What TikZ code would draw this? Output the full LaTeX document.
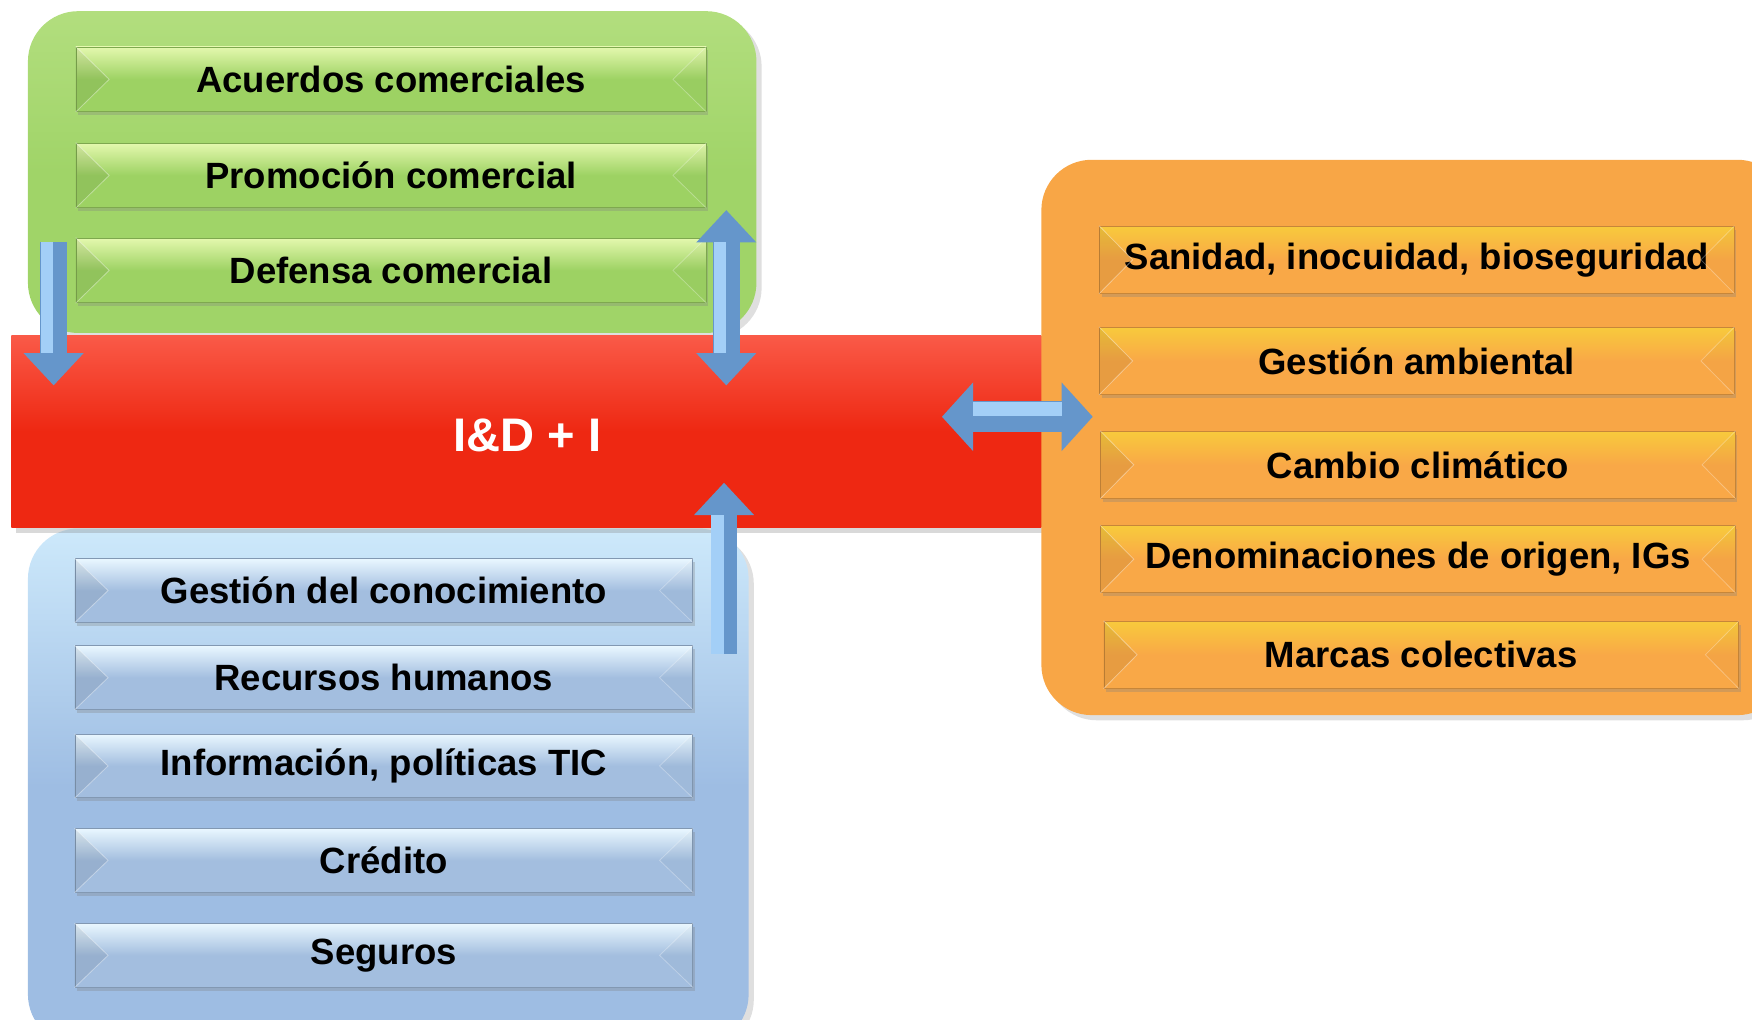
\documentclass[tikz,border=0pt]{standalone}
\usepackage{fontspec}
\setmainfont{Liberation Sans}
\usetikzlibrary{arrows.meta,positioning,shadows,calc}

\definecolor{panelGreen}{HTML}{A0D468}
\definecolor{panelGreenTop}{HTML}{B2DE7E}
\definecolor{barGreen}{HTML}{9DD263}
\definecolor{barGreenTop}{HTML}{E4F8AE}
\definecolor{idiRed}{HTML}{EE2812}
\definecolor{idiRedTop}{HTML}{FA5A48}
\definecolor{panelBlue}{HTML}{9EBDE3}
\definecolor{panelBlueTop}{HTML}{CDE9FB}
\definecolor{barBlue}{HTML}{A3BEDF}
\definecolor{barBlueTop}{HTML}{E9F7FF}
\definecolor{panelOrange}{HTML}{F8A646}
\definecolor{barOrange}{HTML}{F9A847}
\definecolor{barOrangeTop}{HTML}{F8CA3C}
\definecolor{arrowBlue}{HTML}{6596CB}
\definecolor{arrowLight}{HTML}{A3CFF7}

\tikzset{
  txt/.style={font=\fontsize{18.6}{22}\selectfont\bfseries},
  panel/.style={rounded corners=0.9cm, drop shadow={opacity=0.25}},
  bevel/.style={rectangle, txt, inner sep=0pt, draw=#1!80!black, line width=0.4pt,
    drop shadow={opacity=0.3, shadow xshift=0.04cm, shadow yshift=-0.06cm}},
  greenbar/.style={bevel=barGreen, top color=barGreenTop, bottom color=barGreen,
    middle color=barGreen, minimum width=11.28cm, minimum height=1.16cm},
  bluebar/.style={bevel=barBlue, top color=barBlueTop, bottom color=barBlue,
    middle color=barBlue, minimum width=11.06cm, minimum height=1.14cm},
  orangebar/.style={bevel=barOrange, top color=barOrangeTop, bottom color=barOrange,
    middle color=barOrange, minimum width=11.36cm, minimum height=1.2cm},
  bigarrow/.style={line width=0.48cm, draw=arrowBlue},
  blockhead/.tip={Triangle[length=0.58cm, width=1.04cm]},
  widehead/.tip={Triangle[length=0.56cm, width=1.2cm]},
  shine/.style={line width=0.22cm, draw=arrowLight}
}

\begin{document}
\begin{tikzpicture}[x=0.02cm,y=-0.02cm]

  \useasboundingbox (0,0) rectangle (1568,912);
  \clip (0,0) rectangle (1568,912);

  % panels
  \shade[panel, top color=panelGreenTop, bottom color=panelGreen, middle color=panelGreen]
    (25,10) rectangle (677,298);
  \shade[panel, top color=panelBlueTop, bottom color=panelBlue, middle color=panelBlue]
    (25,473) rectangle (670,935);

  % green bars
  \node[greenbar] (acuerdos)  at (350,71)  {Acuerdos comerciales};
  \node[greenbar] (promocion) at (350,157) {Promoción comercial};
  \node[greenbar] (defensa)   at (350,242) {Defensa comercial};

  % blue bars
  \node[bluebar] (gestion)  at (343.5,528.5) {Gestión del conocimiento};
  \node[bluebar] (recursos) at (343.5,606.5) {Recursos humanos};
  \node[bluebar] (info)     at (343.5,685.5) {Información, políticas TIC};
  \node[bluebar] (credito)  at (343.5,770)   {Crédito};
  \node[bluebar] (seguros)  at (343.5,855)   {Seguros};

  % central bar
  \node[rectangle, inner sep=0pt, minimum width=18.44cm, minimum height=3.44cm,
    top color=idiRedTop, bottom color=idiRed, middle color=idiRed,
    drop shadow={opacity=0.3}] (idi) at (471,386) {};
  \node[text=white, font=\fontsize{24}{28}\selectfont\bfseries] (idilabel) at (472,390) {I\&D + I};

  % orange panel
  \fill[panel, panelOrange] (932,143) rectangle (1600,640);
  \node[orangebar] (sanidad)   at (1268,232.5) {Sanidad, inocuidad, bioseguridad};
  \node[orangebar] (ambiental) at (1268,323)   {Gestión ambiental};
  \node[orangebar] (clima)     at (1269,416)   {Cambio climático};
  \node[orangebar] (origen)    at (1269,500.5) {Denominaciones de origen, IGs};
  \node[orangebar] (marcas)    at (1272,586)   {Marcas colectivas};

  % bevel facets
  \foreach \b in {acuerdos,promocion,defensa,gestion,recursos,info,credito,seguros,
                  sanidad,ambiental,clima,origen,marcas}
  {
    \fill[black, opacity=0.07] (\b.north west) -- ([xshift=0.6cm]\b.west) -- (\b.south west) -- cycle;
    \fill[black, opacity=0.02] (\b.north east) -- ([xshift=-0.6cm]\b.east) -- (\b.south east) -- cycle;
    \draw[white, opacity=0.4, line width=0.4pt] (\b.north west) -- ([xshift=0.6cm]\b.west) -- (\b.south west);
    \draw[white, opacity=0.3, line width=0.4pt] (\b.north east) -- ([xshift=-0.6cm]\b.east) -- (\b.south east);
  }

  % arrows
  \coordinate (dnA) at (48,217);
  \coordinate (dnB) at (48,345);
  \coordinate (udA) at (650,188);
  \coordinate (udB) at (650,345);
  \coordinate (upA) at (648,585);
  \coordinate (upB) at (648,432);
  \coordinate (lrA) at (843,373);
  \coordinate (lrB) at (978,373);

  \draw[bigarrow, -blockhead] (dnA) -- (dnB);
  \draw[bigarrow, blockhead-blockhead] (udA) -- (udB);
  \draw[bigarrow, -blockhead] (upA) -- (upB);
  \draw[bigarrow, line width=0.56cm, widehead-widehead] (lrA) -- (lrB);

  \draw[shine] ([xshift=-0.115cm]dnA) -- ([xshift=-0.115cm,yshift=0.58cm]dnB);
  \draw[shine] ([xshift=-0.115cm,yshift=-0.58cm]udA) -- ([xshift=-0.115cm,yshift=0.58cm]udB);
  \draw[shine] ([xshift=-0.115cm]upA) -- ([xshift=-0.115cm,yshift=-0.58cm]upB);
  \draw[shine, line width=0.26cm] ([xshift=0.56cm,yshift=0.135cm]lrA) -- ([xshift=-0.56cm,yshift=0.135cm]lrB);

\end{tikzpicture}
\end{document}
